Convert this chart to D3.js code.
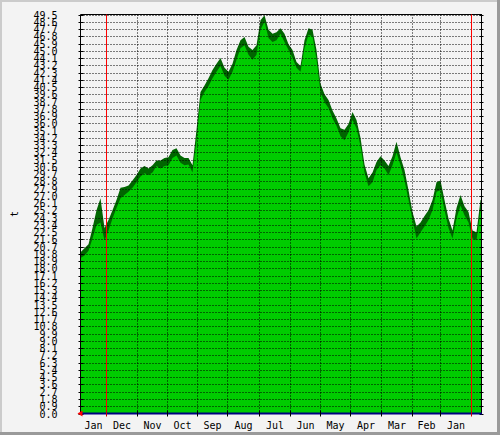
<!DOCTYPE html>
<html><head><meta charset="utf-8">
<script src="https://cdn.jsdelivr.net/npm/d3@7"></script>
<style>
html,body{margin:0;padding:0;background:#f3f3f3;}
svg{display:block;}
text{font-family:"DejaVu Sans Mono",monospace;font-size:10px;fill:#000;}
</style></head>
<body>
<svg id="chart" width="500" height="435"></svg>
<script>
// ---- data ----
const monthLabels = ["Jan","Dec","Nov","Oct","Sep","Aug","Jul","Jun","May","Apr","Mar","Feb","Jan"];
const monthBounds = [0,26,57,87,117,147,179,210,240,270,301,332,360,391];
const yearMarks = [26,391];
const sampleStep = 4; // days between samples
const avgValues = [19.3,19.6,20.2,21.7,23.4,23.7,21.5,22.7,24.2,25.5,26.7,27.1,27.5,28.0,28.7,29.4,29.8,29.6,29.9,30.7,
  30.4,30.7,30.8,31.7,32.0,31.1,30.8,30.9,29.9,33.9,38.9,39.9,40.6,41.6,42.4,43.1,41.9,41.4,42.4,43.9,
  45.3,45.7,44.5,43.9,44.5,47.6,48.6,46.6,46.1,46.3,47.1,46.1,45.1,44.1,42.9,42.4,45.3,47.0,46.8,43.9,
  39.9,38.6,37.9,36.6,35.7,34.4,33.9,34.9,36.4,35.4,33.2,29.9,28.2,28.7,30.2,30.8,30.4,29.6,30.8,32.4,
  30.8,28.9,26.5,24.0,21.7,22.5,23.2,24.0,25.2,27.5,27.7,25.2,23.0,21.7,24.2,25.8,24.6,23.7,21.7,21.5,25.2];
const maxValues = [20.0,20.5,21.0,23.0,25.2,26.7,23.0,24.0,25.2,26.5,28.0,28.1,28.3,28.9,29.6,30.4,30.7,30.4,30.8,31.4,
  31.4,31.7,31.8,32.7,32.9,32.0,31.7,31.7,30.8,35.2,39.9,40.7,41.6,42.6,43.4,44.1,42.9,42.4,43.4,45.1,
  46.3,46.7,45.5,45.1,45.7,48.8,49.4,47.6,47.1,47.3,47.8,47.1,45.8,45.1,43.6,43.1,46.3,47.8,47.6,45.1,
  40.9,39.6,38.9,37.6,36.6,35.4,35.2,35.9,37.4,36.4,34.2,30.9,29.2,29.9,31.2,31.9,31.4,30.7,31.9,33.7,
  31.8,30.2,27.7,25.0,23.2,23.7,24.5,25.2,26.5,28.7,28.9,26.5,24.2,22.7,25.5,27.1,25.7,25.0,22.7,22.5,26.5];
const yTicks = d3.range(0, 56).map(k => +(k * 0.9).toFixed(1));
const yMax = 49.5;
const totalDays = 401;

// ---- layout ----
const svg = d3.select("#chart");
const W = 500, H = 435;
const pLeft = 80.5, pRight = 481.5, pTop = 14.5, pBottom = 413.5;
const x = d3.scaleLinear().domain([0, totalDays]).range([pLeft, pRight]);
const y = d3.scaleLinear().domain([0, yMax]).range([pBottom, pTop]);

// frame
svg.append("rect").attr("x",0).attr("y",0).attr("width",W).attr("height",H).attr("fill","#f3f3f3");
svg.append("rect").attr("x",0).attr("y",0).attr("width",W).attr("height",2).attr("fill","#cbcbcb");
svg.append("rect").attr("x",0).attr("y",0).attr("width",2).attr("height",H).attr("fill","#cbcbcb");
svg.append("rect").attr("x",W-3).attr("y",0).attr("width",3).attr("height",H).attr("fill","#9a9a9a");
svg.append("rect").attr("x",0).attr("y",H-3).attr("width",W).attr("height",3).attr("fill","#9a9a9a");

const pts = avgValues.map((v,i) => ({d: i*sampleStep, avg: v, max: maxValues[i]}));
pts.push({d: totalDays, avg: avgValues[avgValues.length-1], max: maxValues[maxValues.length-1]});

const areaMax = d3.area().x(p => x(p.d)).y0(y(0)).y1(p => y(p.max)).curve(d3.curveLinear);
const areaAvg = d3.area().x(p => x(p.d)).y0(y(0)).y1(p => y(p.avg)).curve(d3.curveLinear);
svg.append("path").datum(pts).attr("d", areaMax).attr("fill","#006600");
svg.append("path").datum(pts).attr("d", areaAvg).attr("fill","#00cc00");

// horizontal dotted grid
const g = svg.append("g");
g.selectAll("line.hg").data(yTicks.slice(1)).join("line")
  .attr("x1", pLeft).attr("x2", pRight)
  .attr("y1", d => Math.round(y(d)) + 0.5).attr("y2", d => Math.round(y(d)) + 0.5)
  .attr("stroke","#000").attr("stroke-width",1).attr("stroke-dasharray","1,2");
// vertical dotted grid
g.selectAll("line.vg").data(monthBounds.slice(1).filter(d => !yearMarks.includes(d))).join("line")
  .attr("x1", d => x(d)).attr("x2", d => x(d))
  .attr("y1", pTop).attr("y2", pBottom)
  .attr("stroke","#000").attr("stroke-width",1).attr("stroke-dasharray","1,2");

// y axis ticks + labels (left)
const yAxisL = d3.axisLeft(y).tickValues(yTicks).tickFormat(d3.format(".1f")).tickSizeInner(2).tickSizeOuter(0).tickPadding(21);
const gl = svg.append("g").attr("transform",`translate(${pLeft},0)`).call(yAxisL);
gl.select(".domain").remove();
gl.selectAll(".tick line").attr("x1",-2).attr("x2",3).attr("stroke","#000");
gl.selectAll(".tick").attr("transform", d => `translate(0,${Math.round(y(d)) + 0.5})`);
gl.selectAll("text").attr("font-family","'DejaVu Sans Mono',monospace").attr("font-size",10).attr("fill","#000").attr("dy","0.35em");
// right ticks
const yAxisR = d3.axisRight(y).tickValues(yTicks).tickFormat("").tickSizeInner(2).tickSizeOuter(0);
const gr = svg.append("g").attr("transform",`translate(${pRight},0)`).call(yAxisR);
gr.select(".domain").remove();
gr.selectAll(".tick line").attr("x1",-2).attr("x2",2).attr("stroke","#000");
gr.selectAll(".tick").attr("transform", d => `translate(0,${Math.round(y(d)) + 0.5})`);

// frame lines
svg.append("line").attr("x1",pLeft).attr("x2",pLeft).attr("y1",pTop).attr("y2",pBottom).attr("stroke","#000");
svg.append("line").attr("x1",pRight).attr("x2",pRight).attr("y1",pTop).attr("y2",pBottom).attr("stroke","#000");
svg.append("line").attr("x1",pLeft).attr("x2",pRight+0.5).attr("y1",pTop).attr("y2",pTop).attr("stroke","#000");

// year red lines
svg.selectAll("line.red").data(yearMarks).join("line")
  .attr("x1", d => x(d)).attr("x2", d => x(d))
  .attr("y1", pTop).attr("y2", pBottom)
  .attr("stroke","#ff0000").attr("stroke-width",1);

// bottom axis (blue)
svg.append("line").attr("x1",pLeft-0.5).attr("x2",pRight+0.5).attr("y1",pBottom).attr("y2",pBottom)
  .attr("stroke","#000080").attr("stroke-width",2);
// bottom month ticks
svg.selectAll("line.mt").data(monthBounds.slice(1)).join("line")
  .attr("x1", d => x(d)).attr("x2", d => x(d))
  .attr("y1", pBottom - 3).attr("y2", pBottom + 3)
  .attr("stroke", d => yearMarks.includes(d) ? "#cc0000" : "#000").attr("stroke-width",1);
// red arrow
svg.append("path").attr("d", `M${pLeft-3},${pBottom} L${pLeft+2},${pBottom-3} L${pLeft+2},${pBottom+3} Z`).attr("fill","#ff0000");

// month labels
const mids = monthLabels.map((m,i) => ({m, c: (monthBounds[i] + monthBounds[i+1]) / 2}));
svg.selectAll("text.ml").data(mids).join("text")
  .attr("x", d => x(d.c)).attr("y", 429)
  .attr("text-anchor","middle")
  .text(d => d.m);

// y label
svg.append("text").attr("transform","translate(18,214) rotate(-90)")
  .attr("text-anchor","middle").text("t");
</script>
</body></html>
